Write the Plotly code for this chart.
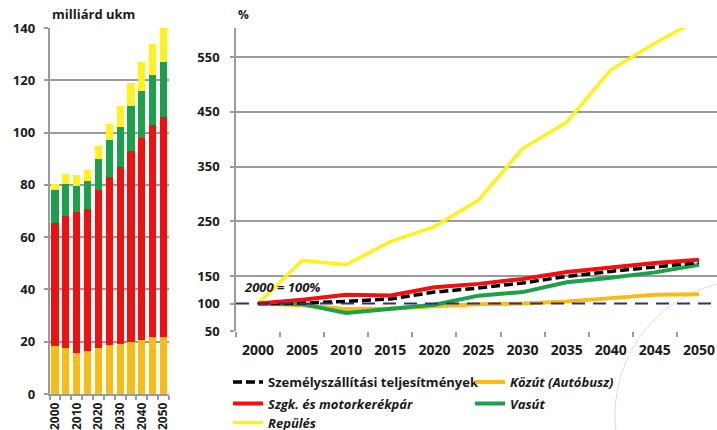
import plotly.graph_objects as go

# ---------------- data ----------------
years = [2000, 2005, 2010, 2015, 2020, 2025, 2030, 2035, 2040, 2045, 2050]
bar_tick_labels = ["2000", "2010", "2020", "2030", "2040", "2050"]

# left chart: billion passenger-km (stacked)
bus_bkm = [18.5, 17.5, 15.8, 16.4, 17.7, 18.7, 19.0, 19.8, 20.7, 21.8, 21.8]
car_bkm = [47.0, 50.7, 53.9, 54.2, 60.3, 64.3, 67.8, 73.2, 77.3, 81.2, 84.2]
rail_bkm = [12.5, 12.3, 10.0, 10.9, 12.0, 14.0, 15.2, 17.0, 18.0, 19.0, 21.0]
air_bkm = [2.3, 3.8, 4.1, 4.3, 5.0, 6.2, 8.0, 9.0, 11.0, 12.0, 13.0]

# right chart: index, 2000 = 100%
total_idx = [100, 101, 104, 108.5, 121, 128.5, 137.6, 149.7, 158.8, 166.7, 175]
car_idx = [100, 107, 116, 115, 130, 136, 145, 157.6, 166, 174, 180]
bus_idx = [100, 97, 90, 91, 95, 99, 100, 104, 110, 116, 117]
rail_idx = [100, 99, 83, 90, 98, 114.5, 121, 139, 147, 157, 171]
air_idx = [100, 178.8, 171, 213, 240.6, 289, 383, 431, 526.7, 575, 620]

right_yticks = [50, 100, 150, 250, 350, 450, 550]
right_grid = [150, 250, 350, 450, 550]

# ---------------- style ----------------
C_BUS = "#F9BC15"
C_CAR = "#F20F0F"
C_RAIL = "#1BA04B"
C_AIR = "#FFF21A"
C_BLACK = "#000000"
C_GRID = "#9A9A9A"
TXT = "#1A1A1A"
FONT = "Open Sans"

W, H = 717, 430
def px_x(p):
    return p / W
def px_y(p):
    return 1 - p / H

fig = go.Figure()

idx = list(range(len(years)))
for vals, col in [(bus_bkm, C_BUS), (car_bkm, C_CAR), (rail_bkm, C_RAIL), (air_bkm, C_AIR)]:
    fig.add_trace(go.Bar(x=idx, y=vals, marker=dict(color=col, line=dict(width=0)),
                         width=0.66, showlegend=False, xaxis="x", yaxis="y",
                         hoverinfo="skip"))

# lines in draw order; each gets its own legend box
lines = [
    (bus_idx, C_BUS, "<i>Közút (Autóbusz)</i>", "legend2", "solid", 4),
    (rail_idx, C_RAIL, "<i>Vasút</i>", "legend4", "solid", 4),
    (air_idx, C_AIR, "<i>Repülés</i>", "legend5", "solid", 3.5),
    (total_idx, C_BLACK, "Személyszállítási teljesítmények", "legend", "9px,4px", 3.5),
    (car_idx, C_CAR, "<i>Szgk. és motorkerékpár</i>", "legend3", "solid", 4),
]
for vals, col, name, leg, dash, w in lines:
    fig.add_trace(go.Scatter(x=years, y=vals, mode="lines", name=name,
                             line=dict(color=col, width=w, dash=dash),
                             legend=leg, xaxis="x2", yaxis="y2",
                             hoverinfo="skip"))

legend_font = dict(size=13, family=FONT, color=TXT, weight="bold")
def legend_box(xp, yp):
    return dict(x=px_x(xp), y=px_y(yp), xanchor="left", yanchor="top",
                orientation="h", font=legend_font, bgcolor="rgba(0,0,0,0)",
                itemwidth=30)

fig.update_layout(
    width=W, height=H, autosize=False,
    margin=dict(l=0, r=0, t=0, b=0, autoexpand=False),
    paper_bgcolor="white", plot_bgcolor="white",
    font=dict(family=FONT, size=13, color=TXT, weight="bold"),
    barmode="stack", bargap=0.34,
    xaxis=dict(domain=[px_x(49.5), px_x(169)], range=[-0.5, 10.5],
               tickmode="array", tickvals=[0, 2, 4, 6, 8, 10], ticktext=bar_tick_labels,
               tickangle=-90, ticks="", showgrid=False, zeroline=False,
               showline=True, linecolor=C_GRID, linewidth=1.5,
               tickfont=dict(size=12, family=FONT, color=TXT, weight="bold"),
               ticklabelstandoff=2, automargin=False,
               minor=dict(tickmode="array", tickvals=[i - 0.5 for i in range(12)],
                          ticks="outside", ticklen=4, tickcolor=C_GRID, tickwidth=1.5,
                          showgrid=False),
               anchor="y", fixedrange=True),
    yaxis=dict(domain=[px_y(394), px_y(28)], range=[0, 140],
               tickmode="array", tickvals=[0, 20, 40, 60, 80, 100, 120, 140],
               ticks="outside", ticklen=4, tickcolor=C_GRID, tickwidth=1.5,
               showgrid=True, gridcolor=C_GRID, gridwidth=1.5, zeroline=False,
               showline=True, linecolor=C_GRID, linewidth=1.5,
               tickfont=dict(size=13, family=FONT, color=TXT, weight="bold"),
               ticklabelstandoff=6, automargin=False,
               anchor="x", fixedrange=True),
    xaxis2=dict(domain=[px_x(236), 1.0], range=[1997.5, 2052.05],
                tickmode="array", tickvals=years, ticks="", showgrid=False,
                zeroline=False, showline=False,
                tickfont=dict(size=14, family=FONT, color=TXT, weight="bold"),
                ticklabelstandoff=9, automargin=False,
                minor=dict(tickmode="array", tickvals=[y - 2.5 for y in years],
                           ticks="outside", ticklen=5, tickcolor=C_GRID, tickwidth=1.5,
                           showgrid=False),
                anchor="y2", fixedrange=True),
    yaxis2=dict(domain=[px_y(331), px_y(28)], range=[50, 603],
                tickmode="array", tickvals=right_yticks,
                ticks="outside", ticklen=4, tickcolor=C_GRID, tickwidth=1.5,
                showgrid=False, zeroline=False,
                showline=True, linecolor=C_GRID, linewidth=1.5,
                tickfont=dict(size=13, family=FONT, color=TXT, weight="bold"),
                ticklabelstandoff=8, automargin=False,
                minor=dict(tickmode="array", tickvals=right_grid, ticks="",
                           showgrid=True, gridcolor=C_GRID, gridwidth=1.5),
                anchor="x2", fixedrange=True),
    legend=legend_box(228, 367),
    legend2=legend_box(470, 367),
    legend3=legend_box(228, 388.5),
    legend4=legend_box(470, 388.5),
    legend5=legend_box(228, 407.5),
    showlegend=True,
)

# 2000 = 100% reference line
fig.add_shape(type="line", xref="x2 domain", yref="y2", x0=0, x1=1, y0=100, y1=100,
              line=dict(color="#2E3180", width=2, dash="13px,8px"), layer="above")

# faint watermark circle
fig.add_shape(type="circle", xref="paper", yref="paper",
              x0=px_x(615), x1=px_x(885), y0=px_y(550), y1=px_y(280),
              line=dict(color="#DDDDDD", width=1), layer="below")

fig.add_annotation(text="milliárd ukm", xref="paper", yref="paper", x=px_x(50), y=px_y(14),
                   xanchor="left", yanchor="middle", showarrow=False,
                   font=dict(size=13, family=FONT, color=TXT, weight="bold"))
fig.add_annotation(text="%", xref="paper", yref="paper", x=px_x(236), y=px_y(15),
                   xanchor="left", yanchor="middle", showarrow=False,
                   font=dict(size=12, family=FONT, color=TXT, weight="bold"))
fig.add_annotation(text="<i>2000 = 100%</i>", xref="paper", yref="paper", x=px_x(242), y=px_y(287),
                   xanchor="left", yanchor="middle", showarrow=False,
                   font=dict(size=13, family=FONT, color=TXT, weight="bold"))

fig.write_html("out.html", config={"displayModeBar": False},
               post_script="document.body.style.margin='0';document.body.style.overflow='hidden';")
